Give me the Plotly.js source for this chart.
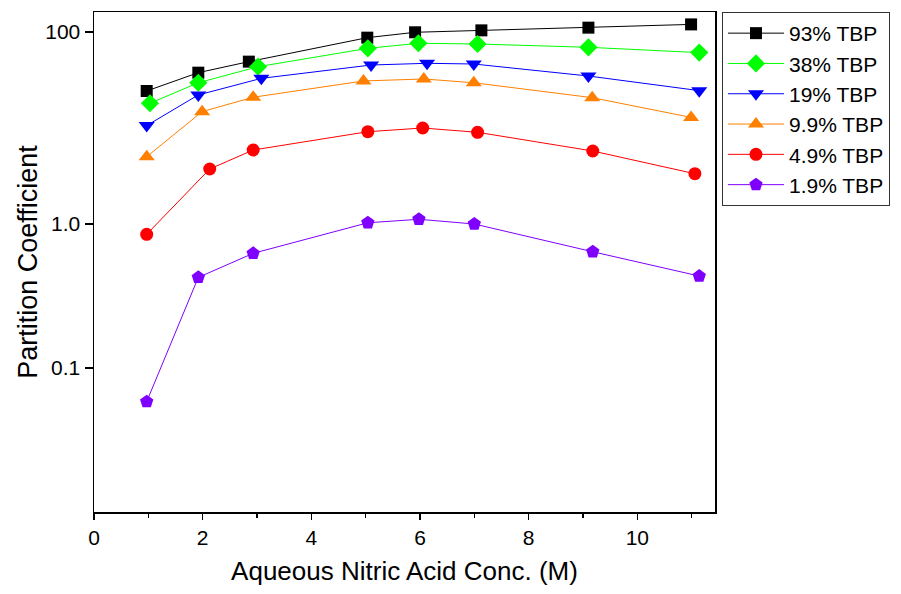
<!DOCTYPE html>
<html>
<head>
<meta charset="utf-8">
<script src="https://cdn.plot.ly/plotly-3.0.1.min.js"></script>
<style>html,body{margin:0;padding:0;background:#fff;}#chart{width:901px;height:594px;}</style>
</head>
<body>
<div id="chart"></div>
<script>
const seriesNames = ['93% TBP', '38% TBP', '19% TBP', '9.9% TBP', '4.9% TBP', '1.9% TBP'];
const x93 = [0.97, 1.92, 2.85, 5.03, 5.91, 7.13, 9.10, 10.99];
const y93 = [24.3, 37.7, 49.1, 87.3, 99.3, 104, 111, 120];
const x38 = [1.03, 1.92, 3.02, 5.04, 5.97, 7.06, 9.10, 11.14];
const y38 = [18.1, 29.6, 43.5, 67.6, 76.3, 75.0, 69.3, 61.0];
const x19 = [0.97, 1.92, 3.08, 5.10, 6.13, 6.99, 9.10, 11.14];
const y19 = [10.6, 22.1, 32.9, 45.3, 47.2, 46.4, 34.8, 24.5];
const x99 = [0.97, 1.99, 2.93, 4.96, 6.07, 6.99, 9.17, 10.99];
const y99 = [5.02, 14.8, 20.9, 30.9, 32.4, 29.6, 20.7, 12.9];
const x49 = [0.97, 2.13, 2.93, 5.04, 6.05, 7.06, 9.18, 11.06];
const y49 = [0.781, 3.74, 5.90, 9.15, 10.0, 9.02, 5.76, 3.34];
const x19b = [0.97, 1.92, 2.93, 5.04, 5.98, 7.00, 9.18, 11.14];
const y19b = [0.0141, 0.278, 0.495, 1.03, 1.12, 1.00, 0.514, 0.287];
const xTickVals = [0, 2, 4, 6, 8, 10];
const yTickVals = [Math.pow(10, -1.5), 1, 100];
const yTickText = ['0.1', '1.0', '100'];

const colors = ['#000000', '#00ff00', '#0000ff', '#ff8000', '#ff0000', '#7f00ff'];
const symbols = ['square', 'diamond', 'triangle-down', 'triangle-up', 'circle', 'pentagon'];
const sizes = [12, 14, 14, 14, 13, 14];
const xs = [x93, x38, x19, x99, x49, x19b];
const ys = [y93, y38, y19, y99, y49, y19b];

const traces = seriesNames.map((n, i) => ({
  type: 'scatter', mode: 'lines+markers', name: n,
  x: xs[i], y: ys[i],
  line: {color: colors[i], width: 1},
  marker: {symbol: symbols[i], color: colors[i], size: sizes[i], line: {width: 0}}
}));

const font = 'Arial, "Liberation Sans", sans-serif';
const layout = {
  width: 901, height: 594,
  margin: {l: 94, r: 185, t: 12, b: 82},
  paper_bgcolor: '#ffffff', plot_bgcolor: '#ffffff',
  font: {family: font, color: '#000', size: 20},
  showlegend: true,
  legend: {x: 1.0096, xanchor: 'left', y: 1, yanchor: 'top',
    bordercolor: '#333', borderwidth: 1, font: {family: font, size: 21, color: '#000'},
    itemwidth: 56, tracegroupgap: 0},
  xaxis: {range: [0, 11.43], tickvals: xTickVals, ticks: 'outside', ticklen: 6, tickwidth: 1.5,
    tickcolor: '#000', linecolor: '#000', linewidth: 1.5, mirror: true, showgrid: false, zeroline: false,
    tickfont: {size: 21}, minor: {dtick: 1, tick0: 0, ticks: 'outside', ticklen: 4, tickwidth: 1.5, tickcolor: '#000', showgrid: false},
    title: {text: 'Aqueous Nitric Acid Conc. (M)', font: {size: 26}, standoff: 14}},
  yaxis: {type: 'log', range: [-3, 2.2083], tickvals: yTickVals, ticktext: yTickText,
    ticks: 'outside', ticklen: 8, tickwidth: 1.5, tickcolor: '#000', linecolor: '#000', linewidth: 1.5,
    mirror: true, showgrid: false, zeroline: false, tickfont: {size: 21},
    title: {text: 'Partition Coefficient', font: {size: 27}, standoff: 0}}
};
Plotly.newPlot('chart', traces, layout, {displayModeBar: false, staticPlot: true});
</script>
</body>
</html>
